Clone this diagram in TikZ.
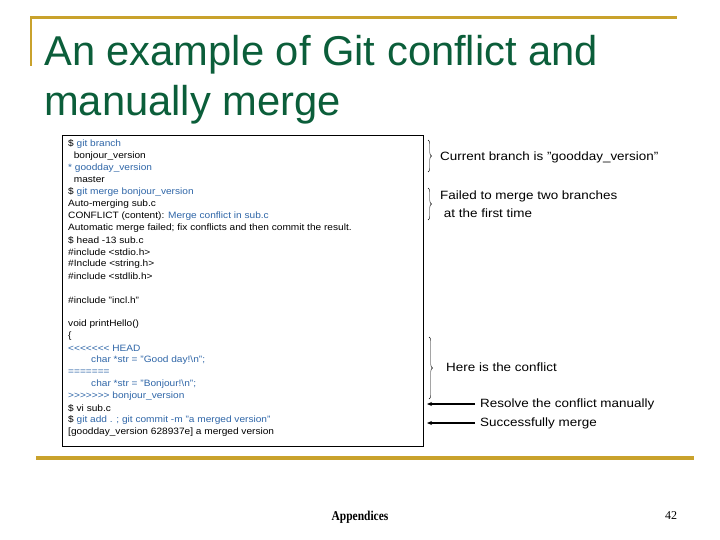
\documentclass[tikz,border=0pt]{standalone}
\usepackage{fontspec}
\setmainfont[Ligatures=NoCommon]{Liberation Sans}
\newfontfamily\serifx{Liberation Serif}
\usetikzlibrary{decorations.pathreplacing,arrows.meta}
\definecolor{gold}{HTML}{C9A22C}
\definecolor{titlegreen}{HTML}{0B5E3A}
\definecolor{codeblue}{HTML}{2F66A8}
\newcommand{\lt}{{<}}
\newcommand{\gt}{{>}}
\tikzset{
  code/.style={anchor=west,inner sep=0pt,font=\fontsize{9.2}{10}\selectfont,xscale=1.1},
  cb/.style={code,text=codeblue},
  note/.style={anchor=west,inner sep=0pt,font=\fontsize{12}{13}\selectfont,xscale=1.12},
  br/.style={decorate,decoration={brace,amplitude=3.5pt},thin},
  arr/.style={-{Stealth[length=5pt,width=4pt]},line width=1.2pt}
}
\begin{document}
\begin{tikzpicture}[x=1pt,y=-1pt]
\useasboundingbox (0,0) rectangle (720,540);
\fill[white] (0,0) rectangle (720,540);
\draw[gold,line width=3pt] (30,18) -- (677,18);
\draw[gold,line width=2.5pt] (31,17) -- (31,66);
\draw[gold,line width=3.5pt] (36,458) -- (694,458);
\node[anchor=base west,inner sep=0pt,text=titlegreen,font=\fontsize{41.7}{42}\selectfont] (t1) at (44,66) {An example of Git conflict and};
\node[anchor=base west,inner sep=0pt,text=titlegreen,font=\fontsize{41.7}{42}\selectfont] (t2) at (44,116) {manually merge};
\draw[line width=0.9pt] (62,135) rectangle (423,446);
\node[code] (l1) at (68,144) {\$ \textcolor{codeblue}{git branch}};
\node[code] (l2) at (68,156) {\ \ bonjour\_version};
\node[cb] (l3) at (68,168) {* goodday\_version};
\node[code] (l4) at (68,180) {\ \ master};
\node[code] (l5) at (68,192) {\$ \textcolor{codeblue}{git merge bonjour\_version}};
\node[code] (l6) at (68,204) {Auto-merging sub.c};
\node[code] (l7) at (68,216) {CONFLICT (content): \textcolor{codeblue}{Merge conflict in sub.c}};
\node[code] (l8) at (68,228) {Automatic merge failed; fix conflicts and then commit the result.};
\node[code] (l9) at (68,240) {\$ head -13 sub.c};
\node[code] (l10) at (68,252) {\#include \lt stdio.h\gt};
\node[code] (l11) at (68,264) {\#Include \lt string.h\gt};
\node[code] (l12) at (68,276) {\#include \lt stdlib.h\gt};
\node[code] (l13) at (68,300) {\#include "incl.h"};
\node[code] (l14) at (68,324) {void printHello()};
\node[code] (l15) at (68,336) {\{};
\node[cb] (l16) at (68,348) {\lt\lt\lt\lt\lt\lt\lt{} HEAD};
\node[cb] (l17) at (91,360) {char *str = "Good day!\textbackslash n";};
\node[cb] (l18) at (68,372) {=======};
\node[cb] (l19) at (91,384) {char *str = "Bonjour!\textbackslash n";};
\node[cb] (l20) at (68,396) {\gt\gt\gt\gt\gt\gt\gt{} bonjour\_version};
\node[code] (l21) at (68,408) {\$ vi sub.c};
\node[code] (l22) at (68,420) {\$ \textcolor{codeblue}{git add . ; git commit -m "a merged version"}};
\node[code] (l23) at (68,432) {[goodday\_version 628937e] a merged version};
\draw[br] (428,140) -- (428,172);
\node[note] (n1) at (440,157) {Current branch is "goodday\_version"};
\draw[br] (428,188) -- (428,220);
\node[note] (n2) at (440,196) {Failed to merge two branches};
\node[note] (n3) at (440,213) {\ at the first time};
\draw[br] (429,337) -- (429,399);
\node[note] (n4) at (446,367) {Here is the conflict};
\node[note] (n5) at (480,404) {Resolve the conflict manually};
\node[note] (n6) at (480,423) {Successfully merge};
\coordinate (a1) at (427,404);
\coordinate (a2) at (427,423);
\draw[arr] ([xshift=-5pt]n5.west) -- (a1);
\draw[arr] ([xshift=-5pt]n6.west) -- (a2);
\node[inner sep=0pt,font=\serifx\bfseries\fontsize{13.5}{14}\selectfont,xscale=0.85] (f1) at (360,517) {Appendices};
\node[inner sep=0pt,font=\serifx\fontsize{12}{13}\selectfont] (f2) at (671,516) {42};
\end{tikzpicture}
\end{document}
